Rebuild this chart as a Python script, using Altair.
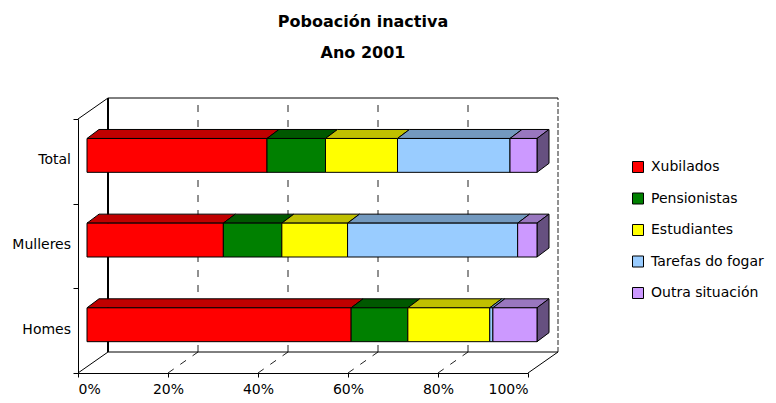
import altair as alt
import pandas as pd

# ---------------- data ----------------
categories = ["Homes", "Mulleres", "Total"]          # bottom -> top
series = ["Xubilados", "Pensionistas", "Estudiantes", "Tarefas do fogar", "Outra situación"]
homes_values = [58.7, 12.6, 18.2, 0.7, 9.8]
mulleres_values = [30.3, 13.0, 14.6, 37.8, 4.3]
total_values = [40.0, 13.0, 16.0, 25.0, 6.0]
tick_values = [0, 20, 40, 60, 80, 100]
title_lines = ["Poboación inactiva", "Ano 2001"]

# ---------------- style ----------------
front_colors = ["#FF0000", "#008000", "#FFFF00", "#99CCFF", "#CC99FF"]
top_colors = ["#C00000", "#005800", "#C0C000", "#7399BF", "#9977BF"]
side_color = "#665080"
FONT = "DejaVu Sans"

W, H = 450, 254
UX = 100.0 / W          # x data units per pixel
UY = 3.0 / H            # y data units per pixel
shift = 9 * UX          # front face shift from the front plane
ddx, ddy = 12 * UX, 9 * UY      # bar depth
wdx, wdy = 30 * UX, 21 * UY     # wall depth
bar_lo, bar_hi = 0.37, 0.77
label_mid = 0.51

# ---------------- tables built from the data ----------------
rows, top_rows, side_rows = [], [], []
for i, (cat, vals) in enumerate(zip(categories, [homes_values, mulleres_values, total_values])):
    start = 0.0
    for k, (s, v) in enumerate(zip(series, vals)):
        end = start + v
        rows.append({"cat": cat, "series": s, "x": start + shift, "x2": end + shift,
                     "y": i + bar_lo, "y2": i + bar_hi})
        pid = f"{cat}-{k}"
        top_rows.append({"id": pid, "y": i + bar_hi, "xa": start + shift, "xb": end + shift,
                         "fill": top_colors[k]})
        top_rows.append({"id": pid, "y": i + bar_hi + ddy, "xa": start + shift + ddx,
                         "xb": end + shift + ddx, "fill": top_colors[k]})
        start = end
    side_rows.append({"id": cat, "xs": start + shift, "ya": i + bar_lo, "yb": i + bar_hi,
                      "fill": side_color})
    side_rows.append({"id": cat, "xs": start + shift + ddx, "ya": i + bar_lo + ddy,
                      "yb": i + bar_hi + ddy, "fill": side_color})
bar_df = pd.DataFrame(rows)
top_df = pd.DataFrame(top_rows)
side_df = pd.DataFrame(side_rows)

ymax = len(categories)
walls = pd.DataFrame({"v": [t + wdx for t in tick_values],
                      "ya": [wdy] * len(tick_values),
                      "yb": [ymax + wdy] * len(tick_values),
                      "fv": tick_values,
                      "fv2": [t + wdx for t in tick_values],
                      "f0": [0] * len(tick_values),
                      "f1": [wdy] * len(tick_values)})
inner = walls[(walls.fv > 0) & (walls.fv < 100)]
left_wall = walls[walls.fv == 0]
right_wall = walls[walls.fv == 100]
edge_floor = walls[(walls.fv == 0) | (walls.fv == 100)]
hlines = pd.DataFrame({"xa": [wdx, wdx], "xb": [100 + wdx, 100 + wdx], "y": [wdy, ymax + wdy]})
corner = pd.DataFrame({"x": [0], "y": [ymax], "x2": [wdx], "y2": [ymax + wdy]})
ylab_df = pd.DataFrame({"cat": categories, "pos": [i + label_mid for i in range(len(categories))]})

# ---------------- scales / axes ----------------
xscale = alt.Scale(domain=[0, 100], nice=False, zero=False)
yscale = alt.Scale(domain=[0, ymax], nice=False, zero=False)
xaxis = alt.Axis(values=tick_values, labelExpr="datum.value + '%'", title=None, grid=False,
                 tickSize=4, tickColor="black", domainColor="black", labelColor="black",
                 labelFontSize=14, labelFont=FONT, labelPadding=5)
yaxis = alt.Axis(values=list(range(ymax + 1)), labels=False, title=None, grid=False,
                 tickSize=5, tickColor="black", domainColor="black")


def X(f):
    return alt.X(f, type="quantitative", scale=xscale, axis=xaxis)


def Y(f):
    return alt.Y(f, type="quantitative", scale=yscale, axis=yaxis)


grid_color = "#222222"

inner_walls = alt.Chart(inner).mark_rule(color=grid_color, strokeWidth=1, strokeDash=[7, 8]).encode(
    x=X("v"), y=Y("ya"), y2=alt.Y2("yb"))
left_wall_l = alt.Chart(left_wall).mark_rule(color="black", strokeWidth=2).encode(
    x=X("v"), y=Y("ya"), y2=alt.Y2("yb"))
right_wall_l = alt.Chart(right_wall).mark_rule(color=grid_color, strokeWidth=1, strokeDash=[5, 2]).encode(
    x=X("v"), y=Y("ya"), y2=alt.Y2("yb"))
floor_inner = alt.Chart(inner).mark_rule(color=grid_color, strokeWidth=1, strokeDash=[7, 8]).encode(
    x=X("fv"), x2=alt.X2("fv2"), y=Y("f0"), y2=alt.Y2("f1"))
floor_edges = alt.Chart(edge_floor).mark_rule(color="black", strokeWidth=1).encode(
    x=X("fv"), x2=alt.X2("fv2"), y=Y("f0"), y2=alt.Y2("f1"))
hl = alt.Chart(hlines).mark_rule(color="black", strokeWidth=1).encode(
    x=X("xa"), x2=alt.X2("xb"), y=Y("y"))
corner_l = alt.Chart(corner).mark_rule(color="black", strokeWidth=1).encode(
    x=X("x"), x2=alt.X2("x2"), y=Y("y"), y2=alt.Y2("y2"))

tops = alt.Chart(top_df).mark_area(orient="horizontal", stroke="black", strokeWidth=1).encode(
    y=Y("y"), x=X("xa"), x2=alt.X2("xb"), detail="id:N", fill=alt.Fill("fill:N", scale=None))
sides = alt.Chart(side_df).mark_area(orient="vertical", stroke="black", strokeWidth=1).encode(
    x=X("xs"), y=Y("ya"), y2=alt.Y2("yb"), detail="id:N", fill=alt.Fill("fill:N", scale=None))

legend = alt.Legend(orient="none", legendX=553, legendY=41, title=None, symbolType="square",
                    symbolSize=121, symbolStrokeColor="black", symbolStrokeWidth=1,
                    labelFontSize=14, labelFont=FONT, labelColor="black", rowPadding=15.5,
                    labelOffset=6, padding=0)
bars = alt.Chart(bar_df).mark_bar(stroke="black", strokeWidth=1).encode(
    x=X("x"), x2=alt.X2("x2"), y=Y("y"), y2=alt.Y2("y2"),
    color=alt.Color("series:N", scale=alt.Scale(domain=series, range=front_colors), legend=legend))

ylabels = alt.Chart(ylab_df).mark_text(align="right", baseline="middle", fontSize=14, font=FONT,
                                       color="black").encode(
    x=alt.value(-7), y=Y("pos"), text="cat:N")

t1 = alt.Chart(pd.DataFrame({"t": [title_lines[0]]})).mark_text(
    align="center", baseline="middle", fontSize=16, fontWeight="bold", font=FONT, color="black").encode(
    x=alt.value(285), y=alt.value(-97), text="t:N")
t2 = alt.Chart(pd.DataFrame({"t": [title_lines[1]]})).mark_text(
    align="center", baseline="middle", fontSize=16, fontWeight="bold", font=FONT, color="black").encode(
    x=alt.value(285), y=alt.value(-66), text="t:N")

chart = alt.layer(
    inner_walls, left_wall_l, right_wall_l, floor_inner, floor_edges, hl, corner_l,
    tops, sides, bars, ylabels, t1, t2
).properties(
    width=W, height=H,
    autosize=alt.AutoSizeParams(type="none"),
    padding={"left": 70, "top": 111, "right": 240, "bottom": 22},
).configure(font=FONT).configure_view(stroke=None)

chart.save("out.html", embed_options={"renderer": "svg", "actions": False})
